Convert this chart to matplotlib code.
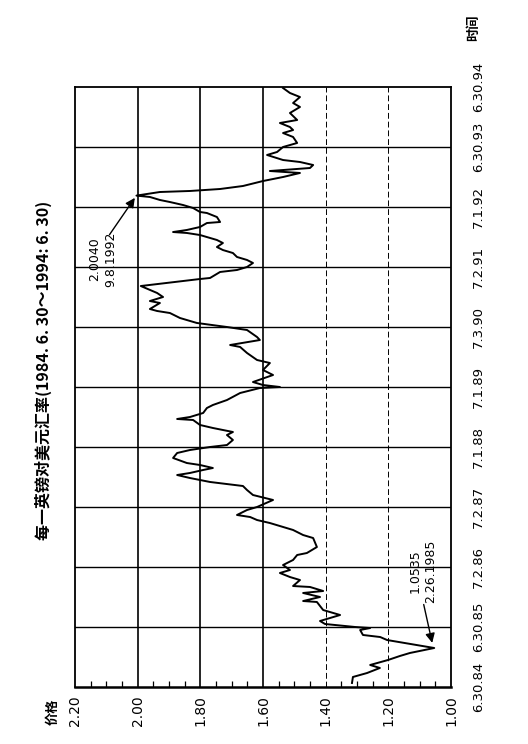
import matplotlib
matplotlib.use('Agg')
import matplotlib.pyplot as plt

plt.rcParams['font.family'] = ['Noto Sans CJK SC', 'DejaVu Sans']

# time in decimal years, rate in US$ per pound
dates = [1984.567, 1984.667, 1984.733, 1984.817, 1984.867, 1984.95, 1985.017, 1985.067, 1985.15,
         1985.283, 1985.333, 1985.367, 1985.45, 1985.483, 1985.5, 1985.55, 1985.6, 1985.65, 1985.7,
         1985.783, 1985.917, 1985.933, 1986.0, 1986.067, 1986.1, 1986.167, 1986.183, 1986.283,
         1986.333, 1986.4, 1986.45, 1986.533, 1986.617, 1986.7, 1986.733, 1986.833, 1986.983,
         1987.033, 1987.117, 1987.233, 1987.283, 1987.333, 1987.367, 1987.45, 1987.5, 1987.617,
         1987.7, 1987.783, 1987.85, 1987.917, 1987.983, 1988.033, 1988.067, 1988.117, 1988.15,
         1988.2, 1988.233, 1988.317, 1988.4, 1988.45, 1988.5, 1988.533, 1988.617, 1988.7, 1988.75,
         1988.817, 1988.867, 1988.95, 1988.967, 1989.0, 1989.067, 1989.15, 1989.2, 1989.283,
         1989.4, 1989.483, 1989.5, 1989.533, 1989.583, 1989.7, 1989.783, 1989.9, 1989.95, 1990.067,
         1990.167, 1990.2, 1990.283, 1990.333, 1990.45, 1990.5, 1990.567, 1990.65, 1990.733,
         1990.767, 1990.8, 1990.9, 1990.933, 1991.0, 1991.067, 1991.15, 1991.183, 1991.3, 1991.317,
         1991.417, 1991.45, 1991.5, 1991.567, 1991.617, 1991.667, 1991.733, 1991.783, 1991.833,
         1991.9, 1991.95, 1992.033, 1992.067, 1992.083, 1992.117, 1992.167, 1992.233, 1992.25,
         1992.333, 1992.4, 1992.417, 1992.483, 1992.533, 1992.583, 1992.617, 1992.667, 1992.69,
         1992.75, 1992.767, 1992.8, 1992.85, 1992.933, 1993.0, 1993.067, 1993.1, 1993.15, 1993.2,
         1993.25, 1993.283, 1993.367, 1993.417, 1993.5, 1993.567, 1993.667, 1993.733, 1993.783,
         1993.833, 1993.9, 1993.95, 1994.067, 1994.167, 1994.233, 1994.333, 1994.4, 1994.483]
rate = [1.316, 1.313, 1.268, 1.227, 1.258, 1.201, 1.163, 1.131, 1.0535,
        1.204, 1.226, 1.281, 1.290, 1.258, 1.306, 1.402, 1.418, 1.386, 1.354,
        1.408, 1.428, 1.472, 1.418, 1.472, 1.408, 1.450, 1.504, 1.482,
        1.514, 1.546, 1.514, 1.536, 1.504, 1.491, 1.460, 1.428, 1.440,
        1.472, 1.504, 1.578, 1.619, 1.641, 1.683, 1.651, 1.619, 1.568,
        1.632, 1.651, 1.664, 1.769, 1.833, 1.874, 1.833, 1.791, 1.760,
        1.801, 1.843, 1.887, 1.874, 1.833, 1.769, 1.715, 1.696, 1.715, 1.696,
        1.760, 1.801, 1.823, 1.874, 1.833, 1.791, 1.779, 1.760, 1.715,
        1.673, 1.610, 1.546, 1.600, 1.632, 1.568, 1.600, 1.578, 1.619, 1.651,
        1.673, 1.705, 1.610, 1.619, 1.651, 1.715, 1.811, 1.865, 1.897,
        1.938, 1.961, 1.929, 1.961, 1.919, 1.938, 1.975, 1.990, 1.801, 1.769,
        1.737, 1.683, 1.651, 1.632, 1.651, 1.683, 1.696, 1.728, 1.747,
        1.728, 1.747, 1.801, 1.843, 1.887, 1.843, 1.801, 1.779, 1.737,
        1.747, 1.779, 1.801, 1.823, 1.855, 1.897, 1.929, 1.961, 2.004,
        1.929, 1.833, 1.737, 1.664, 1.600, 1.536, 1.482, 1.578, 1.450, 1.440,
        1.482, 1.536, 1.587, 1.555, 1.536, 1.491, 1.504, 1.536, 1.504,
        1.514, 1.546, 1.491, 1.514, 1.482, 1.504, 1.482, 1.514, 1.536]

price_ticks = [2.20, 2.00, 1.80, 1.60, 1.40, 1.20, 1.00]
price_labels = ['2.20', '2.00', '1.80', '1.60', '1.40', '1.20', '1.00']
year_ticks = [1984.5, 1985.5, 1986.5, 1987.5, 1988.5, 1989.5, 1990.5, 1991.5, 1992.5, 1993.5, 1994.5]
year_labels = ['6.30.84', '6.30.85', '7.2.86', '7.2.87', '7.1.88', '7.1.89', '7.3.90',
               '7.2.91', '7.1.92', '6.30.93', '6.30.94']

title = '每一英镑对美元汇率(1984. 6. 30～1994: 6. 30)'

fig = plt.figure(figsize=(5.28, 7.44), dpi=100)
ax = fig.add_axes([75 / 528, 57 / 744, 376 / 528, 600 / 744])

# the page is printed sideways: price runs right-to-left, time bottom-to-top
ax.plot(rate, dates, color='black', lw=1.4)
ax.set_xlim(2.20, 1.00)
ax.set_ylim(1984.5, 1994.5)

ax.set_xticks(price_ticks)
ax.set_xticklabels(price_labels, rotation=90, fontsize=10, family='DejaVu Sans')
ax.set_xticks([2.15, 2.10, 2.05, 1.95, 1.90, 1.85, 1.75, 1.70, 1.65, 1.55, 1.50, 1.45,
               1.35, 1.30, 1.25, 1.15, 1.10, 1.05], minor=True)
ax.tick_params(axis='x', which='minor', direction='in', length=4, width=0.9, top=False)
ax.tick_params(axis='x', which='major', direction='in', length=0, pad=6)

ax.yaxis.tick_right()
ax.set_yticks(year_ticks)
ax.set_yticklabels(year_labels, rotation=90, fontsize=9.5, family='DejaVu Sans', va='center')
ax.tick_params(axis='y', which='major', length=0, pad=15)

# grid lines
for yt in year_ticks[1:-1]:
    ax.axhline(yt, color='black', lw=1.0)
for p in [2.00, 1.80, 1.60]:
    ax.axvline(p, color='black', lw=1.2)
for p in [1.40, 1.20]:
    ax.axvline(p, color='black', lw=0.7, ls=(0, (6, 3)))

for s in ax.spines.values():
    s.set_linewidth(1.3)
ax.spines['bottom'].set_linewidth(1.8)

# annotations
ax.annotate('', xy=(2.004, 1992.69), xytext=(2.095, 1992.0),
            arrowprops=dict(arrowstyle='-|>', color='black', lw=1.0, mutation_scale=14))
ax.text(2.112, 1991.63, '2.0040\n9.8.1992', rotation=90, ha='center', va='center',
        fontsize=9, family='DejaVu Sans', linespacing=1.3)

ax.annotate('', xy=(1.058, 1985.19), xytext=(1.089, 1985.92),
            arrowprops=dict(arrowstyle='-|>', color='black', lw=1.0, mutation_scale=14))
ax.text(1.090, 1986.43, '1.0535\n2.26.1985', rotation=90, ha='center', va='center',
        fontsize=9, family='DejaVu Sans', linespacing=1.3)

fig.text(43 / 528, 1 - 370 / 744, title, rotation=90, ha='center', va='center',
         fontsize=11.5, fontweight='bold')
fig.text(53 / 528, 1 - 712 / 744, '价格', rotation=90, ha='center', va='center',
         fontsize=9.5, fontweight='bold')
fig.text(473 / 528, 1 - 28 / 744, '时间', rotation=90, ha='center', va='center',
         fontsize=9.5, fontweight='bold')

plt.savefig('out.png', dpi=100)
